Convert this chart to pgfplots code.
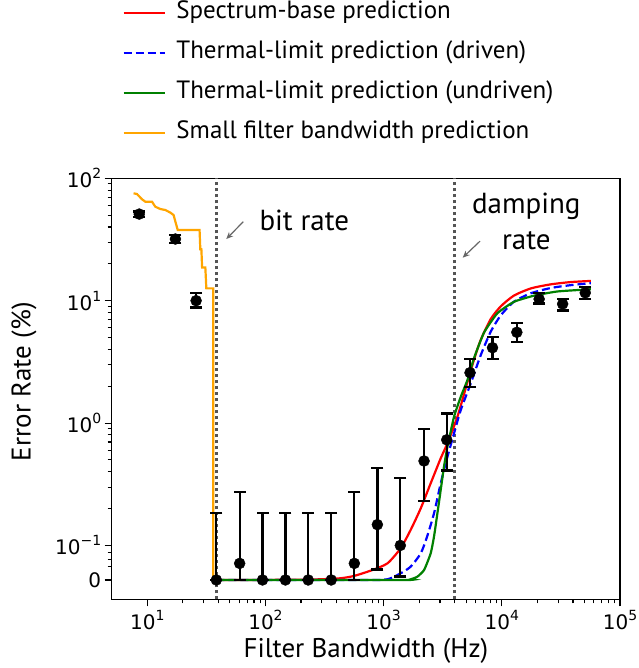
\documentclass[border=0pt]{standalone}
\usepackage{pgfplots}
\pgfplotsset{compat=1.18}
\usepackage{pgfplotstable}
\usetikzlibrary{arrows.meta}
\usepackage{fontspec}
\setmainfont{PT Sans}
\newfontfamily\dejavu{DejaVu Sans}
\newcommand\tl[1]{10\raisebox{0.45em}{\fontsize{14bp}{14bp}\selectfont #1}}

% measured points: x, y (percent)
\pgfplotstableread{
x y
8.55 51
17.3 31.9
25.9 10.0
38.4 0
60.5 0.048
94.4 0
147.6 0
230 0
360 0
565 0.048
885 0.148
1384 0.1
2197 0.49
3420 0.73
5380 2.58
8340 4.13
13400 5.52
20700 10.3
32700 9.4
50800 11.6
}\pts

\pgfplotstableread{
x y
38.4 0
100 0.0002
200 0.001
292 0.002
432 0.005
560 0.0116
776 0.027
1075 0.048
1393 0.092
1693 0.134
2060 0.201
2500 0.322
3040 0.515
3465 0.684
4215 1.13
5000 2.0
5820 3.3
6640 4.8
8070 7.1
9810 9.0
12650 11.0
17620 12.6
26000 13.6
38450 14.2
56700 14.5
}\red

\pgfplotstableread{
x y
38.4 0
700 0
1075 0.002
1393 0.0194
1693 0.0386
2060 0.077
2330 0.118
2668 0.183
3040 0.322
3465 0.53
3945 0.826
4495 1.28
5460 2.11
6640 3.6
8070 5.6
9810 7.6
12650 9.8
17620 11.5
26000 12.7
38450 13.4
56700 13.9
}\blue

\pgfplotstableread{
x y
38.4 0
1500 0
1693 0.002
1930 0.0096
2200 0.029
2500 0.077
2668 0.118
2850 0.183
3040 0.284
3240 0.44
3465 0.64
3945 1.13
4495 1.64
5120 2.25
5820 3.4
7080 5.5
9180 7.9
12700 9.8
18800 11.0
29700 11.9
56700 12.4
}\green

\pgfplotstableread{
x y
7.66 75.4
8.18 74.4
9.02 67.4
9.62 64.4
10.96 64.4
11.69 58.6
12.89 56.1
14.2 55.1
15.7 52.4
16.7 50.1
17.3 44.2
18.1 37.8
27.7 37.8
28.1 26.3
28.7 26.3
29.1 18.7
31.0 18.7
31.6 12.6
36.1 12.6
36.1 0
}\orange

\definecolor{mplred}{RGB}{255,0,0}
\definecolor{mplblue}{RGB}{0,0,255}
\definecolor{mplgreen}{RGB}{0,128,0}
\definecolor{mplorange}{RGB}{255,165,0}
\definecolor{dotgray}{RGB}{85,85,85}

% error bar: x, lower end, upper end
\newcommand\eb[3]{\addplot[black, line width=2.3bp, mark=-, mark size=6bp,
  mark options={solid, line width=2.3bp}, forget plot] coordinates {(#1,#2) (#1,#3)};}

\begin{document}
\begin{tikzpicture}
\useasboundingbox (-111.7bp,-68.7bp) rectangle (527.3bp,599.3bp);
\begin{axis}[
  at={(0,0)}, anchor=south west,
  scale only axis, width=508.3bp, height=421bp,
  xmode=log, xmin=5, xmax=100000,
  ymin=-0.056, ymax=100,
  y coord trafo/.code={\pgfmathparse{ifthenelse(#1<0.1, 2.82*#1-1.282, log10(max(#1,0.1)))}},
  xtick={10,100,1000,10000,100000},
  xticklabels={\tl{1},\tl{2},\tl{3},\tl{4},\tl{5}},
  ytick={0,0.1,1,10,100},
  yticklabels={0,\tl{−1},\tl{0},\tl{1},\tl{2}},
  minor ytick={0.04,0.06,0.08,0.2,0.3,0.4,0.5,0.6,0.7,0.8,0.9,2,3,4,5,6,7,8,9,20,30,40,50,60,70,80,90},
  xtick pos=bottom, ytick pos=left,
  tick align=outside,
  major tick length=7bp, minor tick length=4bp,
  every tick/.style={black, line width=1.1bp},
  axis line style={line width=1.3bp},
  ticklabel style={font=\dejavu\fontsize{20bp}{24bp}\selectfont},
  xlabel={Filter Bandwidth (Hz)},
  ylabel={Error Rate (\%)},
  xlabel style={font=\fontsize{27bp}{30bp}\selectfont, at={(axis description cs:0.5,-0.1378)}, anchor=base},
  ylabel style={font=\fontsize{27bp}{30bp}\selectfont, at={(axis description cs:-0.1726,0.5169)}, anchor=center},
  legend style={draw=none, fill=none, at={(0.0209,1.4204)}, anchor=north west,
    font=\fontsize{25bp}{28bp}\selectfont, inner sep=0pt, row sep=17bp,
    nodes={inner sep=0pt, text height=17bp, text depth=6bp},
    /tikz/every odd column/.append style={column sep=10bp}},
  legend cell align=left,
  legend image code/.code={\draw[#1] (0bp,0bp) -- (41.7bp,0bp);},
]
\addplot[dotgray, line width=3bp, dash pattern=on 3bp off 3bp, forget plot] coordinates {(38.4,-0.056) (38.4,100)};
\addplot[dotgray, line width=3bp, dash pattern=on 3bp off 3bp, forget plot] coordinates {(3945,-0.056) (3945,100)};

\addplot[mplred, line width=2.2bp, no marks, smooth, tension=0.4] table[x=x,y=y] {\red};
\addlegendentry{Spectrum-base prediction}
\addplot[mplblue, line width=2.2bp, no marks, smooth, tension=0.4, dash pattern=on 8bp off 4bp] table[x=x,y=y] {\blue};
\addlegendentry{Thermal-limit prediction (driven)}
\addplot[mplgreen, line width=2.2bp, no marks, smooth, tension=0.3] table[x=x,y=y] {\green};
\addlegendentry{Thermal-limit prediction (undriven)}
\addplot[mplorange, line width=2.2bp, no marks] table[x=x,y=y] {\orange};
\addlegendentry{Small filter bandwidth prediction}

\eb{8.55}{48.5}{53.5}
\eb{17.3}{29.6}{34.4}
\eb{25.9}{8.8}{11.5}
\eb{38.4}{0}{0.183}
\eb{60.5}{0}{0.275}
\eb{94.4}{0}{0.183}
\eb{147.6}{0}{0.183}
\eb{230}{0}{0.183}
\eb{360}{0}{0.183}
\eb{565}{0}{0.275}
\eb{885}{0.03}{0.428}
\eb{1384}{0.01}{0.354}
\eb{2197}{0.232}{0.895}
\eb{3420}{0.41}{1.2}
\eb{5380}{1.98}{3.34}
\eb{8340}{3.32}{5.08}
\eb{13400}{4.62}{6.6}
\eb{20700}{9.5}{11.5}
\eb{32700}{8.3}{10.3}
\eb{50800}{10.3}{13.0}

\addplot[only marks, mark=*, mark size=5.5bp, black, mark options={fill=black}, forget plot]
  table[x=x, y=y] {\pts};

\node[font=\fontsize{29bp}{32bp}\selectfont, anchor=base west] at (rel axis cs:0.2839,0.8756) {bit rate};
\node[font=\fontsize{29bp}{32bp}\selectfont, anchor=base] at (rel axis cs:0.8157,0.9169) {damping};
\node[font=\fontsize{29bp}{32bp}\selectfont, anchor=base] at (rel axis cs:0.8157,0.8297) {rate};
\draw[-{Stealth[length=7bp,width=6bp]}, black!60, line width=1.2bp] (rel axis cs:0.2589,0.8969) -- (rel axis cs:0.2254,0.8557);
\draw[-{Stealth[length=7bp,width=6bp]}, black!60, line width=1.2bp] (rel axis cs:0.7245,0.8506) -- (rel axis cs:0.6905,0.8114);
\end{axis}
\end{tikzpicture}
\end{document}
